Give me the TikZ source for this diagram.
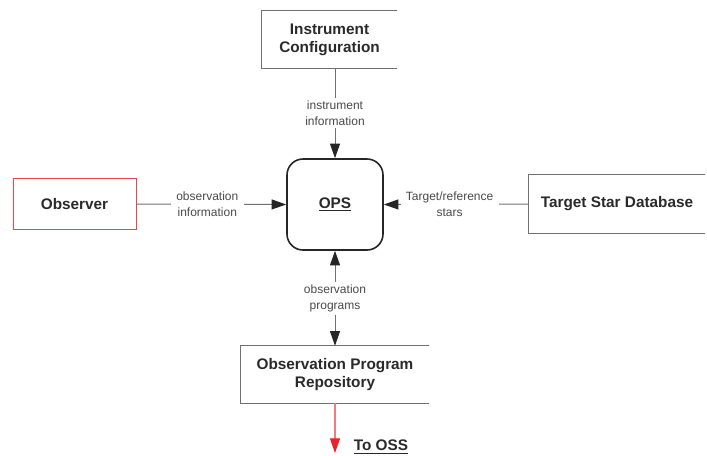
\documentclass[tikz,border=0pt]{standalone}
\usepackage{fontspec}
\setmainfont{Liberation Sans}
\usetikzlibrary{arrows.meta}
\definecolor{linegray}{HTML}{707070}
\definecolor{textgray}{HTML}{2A2A2A}
\definecolor{obsred}{HTML}{E8232B}
\begin{document}
\begin{tikzpicture}[x=0.75pt,y=-0.75pt,
box/.style={inner sep=0pt, align=center, text=textgray,
	font=\fontsize{11.5}{13.5}\selectfont\bfseries},
boxline/.style={draw=linegray, line width=0.8pt},
lbl/.style={midway, fill=white, inner xsep=4pt, inner ysep=2pt, align=center, text=textgray!85,
	font=\fontsize{9}{12}\selectfont},
tip/.tip={Triangle[length=11pt,width=7.5pt,color=black!85]},
redtip/.tip={Triangle[length=11pt,width=7.5pt,color=obsred]},
arr/.style={draw=linegray, line width=0.75pt, -tip},
%arr/.style={->,>=stealth},
]
\useasboundingbox (0,0) rectangle (707,455);
% boites
\node[box, minimum width=101.25pt, minimum height=42.75pt] (instr) at (329.5,39.5) {Instrument\\Configuration};
\node[box, draw=black!85, line width=1.2pt, rounded corners=12pt,
	minimum width=72pt, minimum height=68.25pt] (ops) at (335,204.5) {\underline{OPS}};
\node[box, draw=obsred!85, line width=0.7pt, minimum width=92.25pt, minimum height=38.25pt] (obs) at (74.5,204) {Observer};
\node[box, minimum width=132pt, minimum height=43.5pt] (tsd) at (617,204) {Target Star Database};
\node[box, minimum width=141pt, minimum height=42.75pt] (opr) at (335,374.5) {Observation Program\\Repository};
\node[box] (oss) at (381,447) {\underline{To OSS}};
\coordinate (ossend) at (335,453);
% cotes ouverts (sans bord droit)
\foreach \b in {instr,tsd,opr}
	\draw[boxline] (\b.north east) -- (\b.north west) -- (\b.south west) -- (\b.south east);
% fleches
\draw[arr] (ops.north |- instr.south) -- node[lbl]{instrument\\information} (ops.north);
\draw[arr] (obs.east) -- node[lbl, xshift=-3pt]{observation\\information} (ops.west);
\draw[arr] (tsd.west) -- node[lbl, xshift=-5pt]{Target/reference\\stars} (ops.east);
\draw[arr, tip-tip] (ops.south) -- node[lbl]{observation\\programs} (opr.north);
\draw[draw=obsred!60, line width=0.9pt, -redtip] (opr.south) -- (ossend);
\end{tikzpicture}
\end{document}
